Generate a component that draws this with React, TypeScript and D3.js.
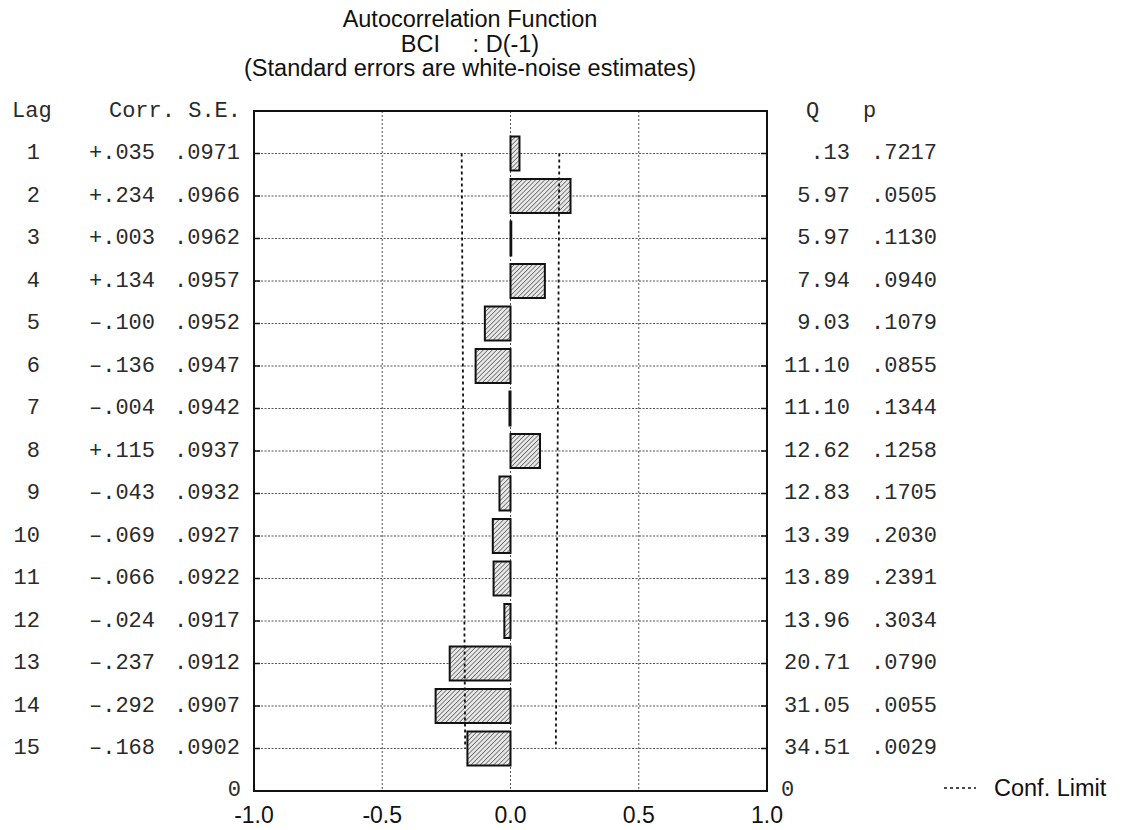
import React from 'react';
import * as d3 from 'd3';

// values
const lags = [1, 2, 3, 4, 5, 6, 7, 8, 9, 10, 11, 12, 13, 14, 15];
const corr = [0.035, 0.234, 0.003, 0.134, -0.1, -0.136, -0.004, 0.115, -0.043, -0.069, -0.066, -0.024, -0.237, -0.292, -0.168];
const stdErr = [0.0971, 0.0966, 0.0962, 0.0957, 0.0952, 0.0947, 0.0942, 0.0937, 0.0932, 0.0927, 0.0922, 0.0917, 0.0912, 0.0907, 0.0902];
const qStat = ['.13', '5.97', '5.97', '7.94', '9.03', '11.10', '11.10', '12.62', '12.83', '13.39', '13.89', '13.96', '20.71', '31.05', '34.51'];
const pVal = ['.7217', '.0505', '.1130', '.0940', '.1079', '.0855', '.1344', '.1258', '.1705', '.2030', '.2391', '.3034', '.0790', '.0055', '.0029'];
const xTicks = [-1, -0.5, 0, 0.5, 1];
const gridX = [-0.5, 0, 0.5];
const titleLines = ['Autocorrelation Function', 'BCI     : D(-1)', '(Standard errors are white-noise estimates)'];

const W = 1125;
const H = 830;
const plot = { left: 254, right: 767, top: 111, bottom: 791 };
const mono = '"Courier New", "Liberation Mono", monospace';
const sans = 'Arial, "Liberation Sans", sans-serif';

const fmtCorr = (v: number) => (v < 0 ? '\u2013' : '+') + Math.abs(v).toFixed(3).replace(/^0/, '');
const fmtSe = (v: number) => v.toFixed(4).replace(/^0/, '');

export default function App() {
  const x = d3.scaleLinear().domain([-1, 1]).range([plot.left, plot.right]);
  const y = d3.scaleLinear().domain([0, 16]).range([plot.top, plot.bottom]);
  const band = (y(1) - y(0)) * 0.8;

  const rows = lags.map((lag, i) => ({ lag, c: corr[i], se: stdErr[i], q: qStat[i], p: pVal[i] }));

  const confLine = (sign: number) =>
    d3.line<(typeof rows)[number]>()
      .x(d => x(sign * 1.96 * d.se))
      .y(d => y(d.lag))(rows) || '';

  return (
    <svg width={W} height={H} style={{ position: 'absolute', left: 0, top: 0, background: '#fff' }}>
      <defs>
        <pattern id="hatch" width={3.2} height={3.2} patternUnits="userSpaceOnUse" patternTransform="rotate(45)">
          <rect width={3.2} height={3.2} fill="#e8e8e8" />
          <line x1={0} y1={0} x2={0} y2={3.2} stroke="#2a2a2a" strokeWidth={1.1} />
        </pattern>
      </defs>

      {/* title */}
      {titleLines.map((t, i) => (
        <text key={t} x={470} y={19 + i * 24.5} textAnchor="middle" dominantBaseline="central"
          fontFamily={sans} fontSize={23.5} fill="#111" style={{ whiteSpace: 'pre' }}>{t}</text>
      ))}

      {/* grid */}
      {rows.map(d => (
        <line key={'g' + d.lag} x1={plot.left} x2={plot.right} y1={y(d.lag)} y2={y(d.lag)}
          stroke="#555" strokeWidth={1} strokeDasharray="2,1.5" />
      ))}
      {gridX.map(v => (
        <line key={'gx' + v} x1={x(v)} x2={x(v)} y1={plot.top} y2={plot.bottom}
          stroke="#555" strokeWidth={1} strokeDasharray="2,2" />
      ))}

      {/* bars */}
      {rows.map(d => (
        <rect key={'b' + d.lag}
          x={x(Math.min(0, d.c))} width={Math.max(0.5, Math.abs(x(d.c) - x(0)))}
          y={y(d.lag) - band / 2} height={band}
          fill="url(#hatch)" stroke="#111" strokeWidth={2} />
      ))}

      {/* confidence limits */}
      {[-1, 1].map(s => (
        <path key={'c' + s} d={confLine(s)} fill="none" stroke="#111" strokeWidth={1.8} strokeDasharray="3,3" />
      ))}

      {/* frame + inner ticks */}
      <rect x={plot.left} y={plot.top} width={plot.right - plot.left} height={plot.bottom - plot.top}
        fill="none" stroke="#111" strokeWidth={2} />
      {rows.map(d => (
        <g key={'t' + d.lag}>
          <line x1={plot.left} x2={plot.left + 6} y1={y(d.lag)} y2={y(d.lag)} stroke="#111" strokeWidth={1.5} />
          <line x1={plot.right - 6} x2={plot.right} y1={y(d.lag)} y2={y(d.lag)} stroke="#111" strokeWidth={1.5} />
        </g>
      ))}

      {/* left table */}
      <g fontFamily={mono} fontSize={22} fill="#2a2a2a" dominantBaseline="central">
        <text x={12} y={y(0)}>Lag</text>
        <text x={241} y={y(0)} textAnchor="end" style={{ whiteSpace: 'pre' }}>Corr. S.E.</text>
        {rows.map(d => (
          <g key={'l' + d.lag}>
            <text x={40} y={y(d.lag)} textAnchor="end">{d.lag}</text>
            <text x={155} y={y(d.lag)} textAnchor="end">{fmtCorr(d.c)}</text>
            <text x={240} y={y(d.lag)} textAnchor="end">{fmtSe(d.se)}</text>
          </g>
        ))}
        <text x={241} y={y(16) - 1} textAnchor="end">0</text>

        {/* right table */}
        <text x={806} y={y(0)}>Q</text>
        <text x={863} y={y(0)}>p</text>
        {rows.map(d => (
          <g key={'r' + d.lag}>
            <text x={850} y={y(d.lag)} textAnchor="end">{d.q}</text>
            <text x={937} y={y(d.lag)} textAnchor="end">{d.p}</text>
          </g>
        ))}
        <text x={781} y={y(16) - 1}>0</text>
      </g>

      {/* x axis labels */}
      {xTicks.map(v => (
        <text key={'x' + v} x={x(v)} y={815} textAnchor="middle" dominantBaseline="central"
          fontFamily={sans} fontSize={23} fill="#111">{v.toFixed(1)}</text>
      ))}

      {/* legend */}
      <line x1={944} x2={976} y1={788} y2={788} stroke="#111" strokeWidth={1.6} strokeDasharray="3,3" />
      <text x={994} y={788} dominantBaseline="central" fontFamily={sans} fontSize={23.5} fill="#111">Conf. Limit</text>
    </svg>
  );
}
